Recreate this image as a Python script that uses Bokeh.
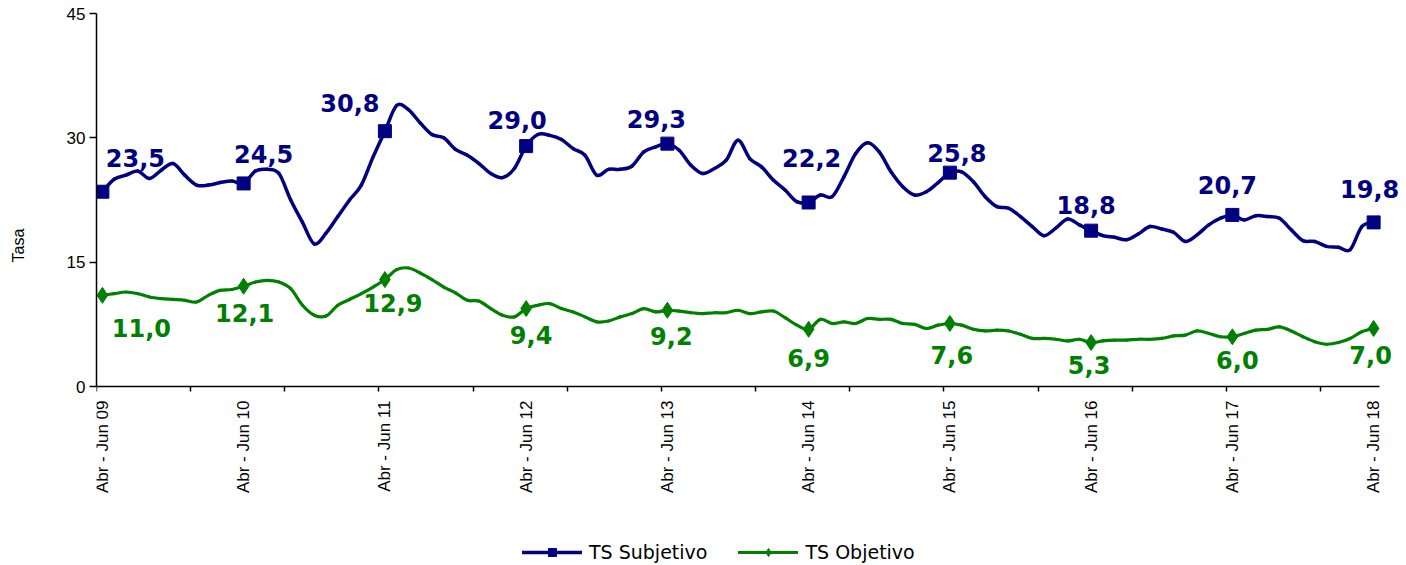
import numpy as np
from bokeh.plotting import figure
from bokeh.models import Range1d, FixedTicker, Legend, LegendItem, Title, ColumnDataSource
from bokeh.core.properties import value
from bokeh.embed import file_html
from bokeh.resources import INLINE

# ---------------- data ----------------
tick_labels = ["Abr - Jun 09", "Abr - Jun 10", "Abr - Jun 11", "Abr - Jun 12",
               "Abr - Jun 13", "Abr - Jun 14", "Abr - Jun 15", "Abr - Jun 16",
               "Abr - Jun 17", "Abr - Jun 18"]
months_per_label = 12
months_per_tick = 8

subjetivo = [
    23.5, 25.0, 25.5, 26.0, 25.1, 26.1, 26.9, 25.5, 24.3, 24.3, 24.6, 24.8,
    24.5, 26.0, 26.2, 25.7, 22.5, 19.8, 17.2, 18.5, 20.5, 22.5, 24.3, 27.7,
    30.8, 33.9, 33.4, 31.8, 30.4, 30.0, 28.6, 27.9, 26.9, 25.7, 25.2, 26.3,
    29.0, 30.4, 30.3, 29.8, 28.7, 27.9, 25.5, 26.2, 26.2, 26.6, 28.3, 28.9,
    29.3, 28.5, 26.7, 25.7, 26.3, 27.3, 29.7, 27.5, 26.5, 24.9, 23.7, 22.3,
    22.2, 23.1, 22.9, 25.3, 28.1, 29.4, 28.3, 25.9, 24.1, 23.1, 23.5, 24.6,
    25.8, 25.9, 24.7, 22.9, 21.7, 21.5, 20.5, 19.3, 18.2, 19.1, 20.2, 19.5,
    18.8, 18.2, 18.0, 17.7, 18.4, 19.3, 19.0, 18.6, 17.5, 18.3, 19.5, 20.3,
    20.7, 20.1, 20.6, 20.5, 20.3, 18.9, 17.6, 17.5, 16.9, 16.8, 16.5, 19.3,
    19.8]

objetivo = [
    11.0, 11.2, 11.4, 11.2, 10.8, 10.6, 10.5, 10.4, 10.2, 11.0, 11.6, 11.7,
    12.1, 12.6, 12.8, 12.6, 11.8, 9.8, 8.6, 8.5, 9.8, 10.5, 11.2, 12.0,
    12.9, 14.1, 14.3, 13.7, 12.9, 12.0, 11.3, 10.4, 10.3, 9.4, 8.6, 8.4,
    9.4, 9.8, 10.0, 9.4, 9.0, 8.4, 7.8, 7.9, 8.4, 8.8, 9.4, 9.0,
    9.2, 9.1, 8.9, 8.8, 8.9, 8.9, 9.2, 8.8, 9.0, 9.1, 8.3, 7.4,
    6.9, 8.1, 7.6, 7.8, 7.6, 8.2, 8.1, 8.1, 7.6, 7.5, 7.0, 7.4,
    7.6, 7.4, 6.9, 6.7, 6.8, 6.7, 6.3, 5.8, 5.8, 5.7, 5.5, 5.7,
    5.3, 5.5, 5.6, 5.6, 5.7, 5.7, 5.8, 6.1, 6.2, 6.7, 6.4, 6.0,
    6.0, 6.4, 6.8, 6.9, 7.2, 6.7, 6.0, 5.4, 5.1, 5.3, 5.8, 6.6,
    7.0]

series_names = ["TS Subjetivo", "TS Objetivo"]
y_title = "Tasa"
y_ticks = [0, 15, 30, 45]
y_max = 45

# ---------------- styling (label placement in px) ----------------
subj_dx = [33, 20, -35, -9, -11, 3, 7, -5, -5, -4]
subj_dy = [-34, -29, -28, -26, -25, -44, -20, -26, -30, -33]
obj_dx = [39, 1, 8, 5, 4, 0, 2, -2, 5, -3]
obj_dy = [33, 27, 23, 26, 26, 29, 31, 22, 23, 27]

BLUE = "#000080"
GREEN = "#008000"

n = len(subjetivo)
xs = np.arange(n, dtype=float)
label_idx = list(range(0, n, months_per_label))

# layout in pixels
AXIS_PX = 1283                      # drawn length of the x axis
PLOT_PX = 373                       # drawn height of the y axis (0..45)
FRAME_W = 1310                      # frame a bit wider so end labels are not clipped
FRAME_H = 552                       # frame reaches down to the legend row
px_per_month = AXIS_PX / n
px_per_unit = PLOT_PX / y_max
x_end = -0.5 + FRAME_W / px_per_month
y_start = -(FRAME_H - PLOT_PX) / px_per_unit


def bezier_source(y):
    y = np.asarray(y, dtype=float)
    x = xs
    xp = np.concatenate([[x[0]], x, [x[-1]]])
    yp = np.concatenate([[y[0]], y, [y[-1]]])
    x0, y0 = x[:-1], y[:-1]
    x1, y1 = x[1:], y[1:]
    cx0 = x0 + (xp[2:-1] - xp[:-3]) / 6.0
    cy0 = y0 + (yp[2:-1] - yp[:-3]) / 6.0
    cx1 = x1 - (xp[3:] - xp[1:-2]) / 6.0
    cy1 = y1 - (yp[3:] - yp[1:-2]) / 6.0
    return ColumnDataSource(dict(x0=x0, y0=y0, x1=x1, y1=y1,
                                 cx0=cx0, cy0=cy0, cx1=cx1, cy1=cy1))


def fmt(v):
    return f"{v:.1f}".replace(".", ",")


p = figure(frame_width=FRAME_W, frame_height=FRAME_H,
           min_border_left=96, min_border_right=0,
           min_border_top=13, min_border_bottom=0,
           x_range=Range1d(-0.5, x_end), y_range=Range1d(y_start, y_max),
           output_backend="svg", toolbar_location=None,
           background_fill_color="white", border_fill_color="white")
p.outline_line_color = None
p.xgrid.visible = False
p.ygrid.visible = False

# x axis, drawn at y = 0
p.xaxis.fixed_location = 0
p.xaxis.bounds = (-0.5, n - 0.5)
p.xaxis.ticker = FixedTicker(
    ticks=label_idx,
    minor_ticks=[k - 0.5 for k in range(0, n, months_per_tick)])
p.xaxis.major_label_overrides = {i: tick_labels[j] for j, i in enumerate(label_idx)}
p.xaxis.major_label_orientation = np.pi / 2
p.xaxis.major_tick_out = 0
p.xaxis.major_tick_in = 0
p.xaxis.minor_tick_out = 5
p.xaxis.minor_tick_in = 0
p.xaxis.minor_tick_line_color = "black"
p.xaxis.minor_tick_line_width = 1.5
p.xaxis.major_label_standoff = 9
p.xaxis.major_label_text_font = "Liberation Sans"
p.xaxis.major_label_text_font_size = "17px"
p.xaxis.major_label_text_color = "black"
p.xaxis.axis_line_color = "black"
p.xaxis.axis_line_width = 1.5

# y axis
p.yaxis.bounds = (0, y_max)
p.yaxis.ticker = FixedTicker(ticks=y_ticks, minor_ticks=[])
p.yaxis.major_tick_out = 7
p.yaxis.major_tick_in = 0
p.yaxis.minor_tick_out = 0
p.yaxis.minor_tick_in = 0
p.yaxis.major_tick_line_width = 1.5
p.yaxis.major_label_standoff = 4
p.yaxis.major_label_text_font = "Liberation Sans"
p.yaxis.major_label_text_font_size = "17px"
p.yaxis.major_label_text_color = "black"
p.yaxis.axis_line_color = "black"
p.yaxis.axis_line_width = 1.5

# blank spacer, then the y title placed lower than the axis centre
p.add_layout(Title(text=" ", text_font_size="1px", standoff=34), "left")
p.add_layout(Title(text=y_title, align="left", offset=303, standoff=0,
                   vertical_align="bottom",
                   text_font="Liberation Sans", text_font_size="16px",
                   text_font_style="normal", text_color="black"), "left")

items = []
for vals, color, marker, msize, lw, dx, dy, name in [
        (subjetivo, BLUE, "square", 13, 3.5, subj_dx, subj_dy, series_names[0]),
        (objetivo, GREEN, "diamond", 16, 3.2, obj_dx, obj_dy, series_names[1])]:
    bz = p.bezier(x0="x0", y0="y0", x1="x1", y1="y1", cx0="cx0", cy0="cy0",
                  cx1="cx1", cy1="cy1", source=bezier_source(vals),
                  line_color=color, line_width=lw, line_cap="round")
    msrc = ColumnDataSource(dict(x=[xs[i] for i in label_idx],
                                 y=[vals[i] for i in label_idx],
                                 text=[fmt(vals[i]) for i in label_idx],
                                 dx=dx, dy=dy))
    sc = p.scatter(x="x", y="y", source=msrc, marker=marker, size=msize,
                   fill_color=color, line_color=color)
    p.text(x="x", y="y", text="text", x_offset="dx", y_offset="dy", source=msrc,
           text_font=value("DejaVu Sans"), text_font_style="bold",
           text_font_size="24px", text_color=color,
           text_align="center", text_baseline="middle")
    items.append(LegendItem(label=name, renderers=[bz, sc]))

legend = Legend(items=items, orientation="horizontal", location=(426, 2),
                glyph_width=60, glyph_height=20, label_standoff=7, spacing=31,
                padding=0, margin=0, border_line_color=None,
                background_fill_alpha=0,
                label_text_font="DejaVu Sans", label_text_font_size="19px",
                label_text_color="black")
p.add_layout(legend)

open("out.html", "w").write(file_html(p, INLINE))
